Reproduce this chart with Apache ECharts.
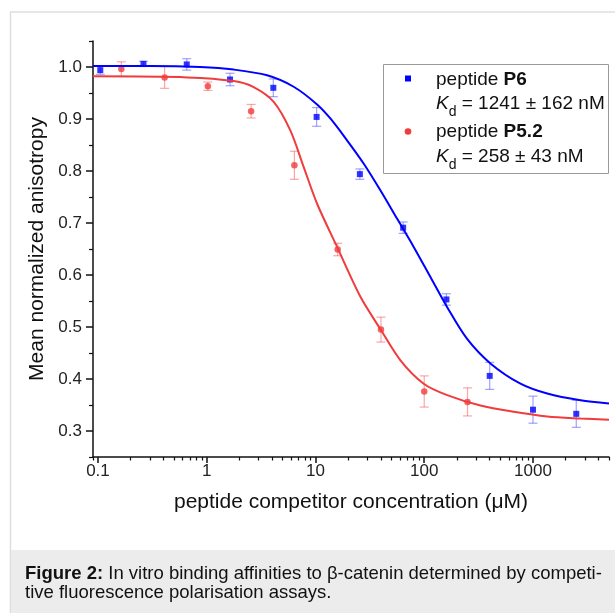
<!DOCTYPE html>
<html><head><meta charset="utf-8">
<script src="https://cdn.jsdelivr.net/npm/echarts@6/dist/echarts.min.js"></script>
<style>html,body{margin:0;padding:0;background:#fff}#c{width:615px;height:613px}</style>
</head><body><div id="c"></div>
<script>
// ---- data (concentration in µM, mean normalized anisotropy) ----
const p6Conc  = [0.105, 0.262, 0.655, 1.638, 4.096, 10.24, 25.6, 64, 160, 400, 1000, 2500];
const p6Mean  = [0.994, 1.006, 1.005, 0.976, 0.960, 0.904, 0.794, 0.691, 0.553, 0.406, 0.341, 0.333];
const p6Err   = [0.008, 0.005, 0.011, 0.012, 0.017, 0.018, 0.010, 0.011, 0.011, 0.026, 0.026, 0.026];
const p52Conc = [0.164, 0.41, 1.024, 2.56, 6.4, 16, 40, 100, 250];
const p52Mean = [0.996, 0.980, 0.963, 0.915, 0.811, 0.649, 0.495, 0.376, 0.356];
const p52Err  = [0.014, 0.021, 0.008, 0.013, 0.027, 0.012, 0.024, 0.030, 0.027];
// fitted curves
const p6FitConc  = [0.09, 0.3, 0.873, 1.77, 3.59, 6.30, 10.35, 13.7, 19.5, 27.8, 39.5, 56.4, 80, 114, 162.6, 248, 406, 767, 1352, 2735, 5000];
const p6FitVal   = [1.002, 1.002, 1.000, 0.995, 0.984, 0.962, 0.928, 0.901, 0.859, 0.814, 0.763, 0.708, 0.654, 0.596, 0.538, 0.477, 0.430, 0.391, 0.372, 0.359, 0.353];
const p52FitConc = [0.09, 0.664, 1.77, 2.70, 4.13, 5.87, 7.78, 10.35, 15.8, 25.9, 39.5, 60.4, 98.9, 162.6, 329, 665, 1352, 2735, 5000];
const p52FitVal  = [0.982, 0.980, 0.973, 0.9615, 0.933, 0.878, 0.808, 0.737, 0.654, 0.558, 0.496, 0.436, 0.391, 0.369, 0.349, 0.337, 0.328, 0.324, 0.3215];
// axes
const xMin = 0.09, xMax = 5000;
const xMajorTicks = [0.1, 1, 10, 100, 1000];
const xTickLabels = ['0.1', '1', '10', '100', '1000'];
const yMin = 0.25, yMax = 1.05;
const yMajorTicks = [0.3, 0.4, 0.5, 0.6, 0.7, 0.8, 0.9, 1.0];
const yMinorTicks = [0.25, 0.35, 0.45, 0.55, 0.65, 0.75, 0.85, 0.95, 1.05];
const xMinorTicks = [0.09,
  0.2,0.3,0.4,0.5,0.6,0.7,0.8,0.9,
  2,3,4,5,6,7,8,9,
  20,30,40,50,60,70,80,90,
  200,300,400,500,600,700,800,900,
  2000,3000,4000,5000];

const BLUE = '#0000ff', RED = '#f03c3c';
const BLUE_ERR = 'rgba(70,70,255,0.5)', RED_ERR = 'rgba(245,80,80,0.5)';
const FONT = "'Liberation Sans', Arial, sans-serif";
const L = Math.log10;

const toPts = (xs, ys) => xs.map((x, i) => [L(x), ys[i]]);
const toErr = (xs, ys, es) => xs.map((x, i) => [L(x), ys[i], es[i]]);

function errRenderer(color) {
  return function (params, api) {
    const x = api.value(0), y = api.value(1), e = api.value(2);
    const t = api.coord([x, y + e]), b = api.coord([x, y - e]);
    const hw = 4.5;
    const st = { stroke: color, lineWidth: 1.2 };
    return { type: 'group', children: [
      { type: 'line', shape: { x1: t[0], y1: t[1], x2: b[0], y2: b[1] }, style: st },
      { type: 'line', shape: { x1: t[0] - hw, y1: t[1], x2: t[0] + hw, y2: t[1] }, style: st },
      { type: 'line', shape: { x1: b[0] - hw, y1: b[1], x2: b[0] + hw, y2: b[1] }, style: st }
    ]};
  };
}

const chart = echarts.init(document.getElementById('c'));
const gridDef = { left: 93, top: 41, right: 6, bottom: 156, containLabel: false, outerBoundsMode: 'none' };

const kdRich = {
  k: { fontFamily: FONT, fontSize: 19, fontStyle: 'italic', fill: '#111', lineHeight: 22, verticalAlign: 'top' },
  s: { fontFamily: FONT, fontSize: 14, fill: '#111', lineHeight: 14, verticalAlign: 'top', padding: [11, 0, 0, 0] },
  n: { fontFamily: FONT, fontSize: 19, fill: '#111', lineHeight: 22, verticalAlign: 'top' }
};
const pepRich = {
  n: { fontFamily: FONT, fontSize: 19, fill: '#111' },
  b: { fontFamily: FONT, fontSize: 19, fontWeight: 'bold', fill: '#111' }
};

chart.setOption({
  animation: false,
  backgroundColor: '#fff',
  textStyle: { fontFamily: FONT },
  grid: gridDef,
  xAxis: [{
    type: 'value', min: L(xMin), max: L(xMax),
    axisLine: { show: true, onZero: false, lineStyle: { color: '#111', width: 1.5 } },
    axisTick: { show: true, inside: false, length: 6, customValues: xMajorTicks.map(L), lineStyle: { color: '#111', width: 1.5 } },
    axisLabel: { show: true, margin: 6, customValues: xMajorTicks.map(L), color: '#222', fontSize: 17, fontFamily: FONT,
      formatter: v => { const i = xMajorTicks.findIndex(t => Math.abs(L(t) - v) < 1e-6); return i >= 0 ? xTickLabels[i] : ''; } },
    splitLine: { show: false },
    name: 'peptide competitor concentration (\u03bcM)', nameLocation: 'middle', nameGap: 35,
    nameTextStyle: { color: '#111', fontSize: 21, fontFamily: FONT }
  }, {
    type: 'value', min: L(xMin), max: L(xMax), position: 'bottom',
    axisLine: { show: false, onZero: false },
    axisTick: { show: true, length: 3.5, customValues: xMinorTicks.map(L), lineStyle: { color: '#111', width: 1.2 } },
    axisLabel: { show: false }, splitLine: { show: false }
  }],
  yAxis: [{
    type: 'value', min: yMin, max: yMax,
    axisLine: { show: true, onZero: false, lineStyle: { color: '#111', width: 1.5 } },
    axisTick: { show: true, inside: false, length: 7, customValues: yMajorTicks, lineStyle: { color: '#111', width: 1.5 } },
    axisLabel: { show: true, margin: 11, customValues: yMajorTicks, color: '#222', fontSize: 17, fontFamily: FONT,
      formatter: v => v.toFixed(1) },
    splitLine: { show: false },
    name: 'Mean normalized anisotropy', nameLocation: 'middle', nameGap: 39,
    nameTextStyle: { color: '#111', fontSize: 21, fontFamily: FONT }
  }, {
    type: 'value', min: yMin, max: yMax, position: 'left',
    axisLine: { show: false, onZero: false },
    axisTick: { show: true, length: 4, customValues: yMinorTicks, lineStyle: { color: '#111', width: 1.2 } },
    axisLabel: { show: false }, splitLine: { show: false }
  }],
  series: [
    { type: 'custom', name: 'P6 err', renderItem: errRenderer(BLUE_ERR), data: toErr(p6Conc, p6Mean, p6Err), encode: { x: 0, y: 1 }, z: 2, silent: true },
    { type: 'custom', name: 'P5.2 err', renderItem: errRenderer(RED_ERR), data: toErr(p52Conc, p52Mean, p52Err), encode: { x: 0, y: 1 }, z: 2, silent: true },
    { type: 'scatter', name: 'peptide P6', symbol: 'rect', symbolSize: 6, itemStyle: { color: BLUE }, data: toPts(p6Conc, p6Mean), z: 3 },
    { type: 'scatter', name: 'peptide P5.2', symbol: 'circle', symbolSize: 6.5, itemStyle: { color: RED }, data: toPts(p52Conc, p52Mean), z: 3 },
    { type: 'line', name: 'P6 fit', data: toPts(p6FitConc, p6FitVal), smooth: 0.3, showSymbol: false, symbol: 'none',
      lineStyle: { color: BLUE, width: 2 }, z: 4 },
    { type: 'line', name: 'P5.2 fit', data: toPts(p52FitConc, p52FitVal), smooth: 0.3, showSymbol: false, symbol: 'none',
      lineStyle: { color: RED, width: 2 }, z: 4 }
  ],
  graphic: [
    // page frame
    { type: 'line', shape: { x1: 10, y1: 12, x2: 615, y2: 12 }, style: { stroke: '#dedede', lineWidth: 1.5 }, z: 0 },
    { type: 'line', shape: { x1: 10.5, y1: 12, x2: 10.5, y2: 613 }, style: { stroke: '#dedede', lineWidth: 1.5 }, z: 0 },
    // caption
    { type: 'rect', shape: { x: 11, y: 550, width: 604, height: 63 }, style: { fill: '#ececec' }, z: 0 },
    { type: 'text', x: 25, y: 564, z: 1, style: {
      text: '{b|Figure 2:}{n| In vitro binding affinities to \u03b2-catenin determined by competi-}\n{n|tive fluorescence polarisation assays.}',
      rich: {
        b: { fontFamily: FONT, fontSize: 18.5, fontWeight: 'bold', fill: '#111', lineHeight: 19 },
        n: { fontFamily: FONT, fontSize: 18.5, fill: '#111', lineHeight: 19 }
      }, verticalAlign: 'top' } },
    // legend
    { type: 'rect', shape: { x: 383.5, y: 64.5, width: 225, height: 109 }, style: { fill: '#fff', stroke: '#999', lineWidth: 1 }, z: 10 },
    { type: 'rect', shape: { x: 405, y: 75.5, width: 6, height: 6 }, style: { fill: BLUE }, z: 11 },
    { type: 'circle', shape: { cx: 408, cy: 131.5, r: 3.3 }, style: { fill: RED }, z: 11 },
    { type: 'text', x: 436, y: 79.5, z: 11, style: { text: '{n|peptide }{b|P6}', verticalAlign: 'middle', rich: pepRich } },
    { type: 'text', x: 436, y: 94, z: 11, style: { text: '{k|K}{s|d}{n| = 1241 \u00b1 162 nM}', verticalAlign: 'top', rich: kdRich } },
    { type: 'text', x: 436, y: 132, z: 11, style: { text: '{n|peptide }{b|P5.2}', verticalAlign: 'middle', rich: pepRich } },
    { type: 'text', x: 436, y: 147.5, z: 11, style: { text: '{k|K}{s|d}{n| = 258 \u00b1 43 nM}', verticalAlign: 'top', rich: kdRich } }
  ]
});
</script>
</body></html>
